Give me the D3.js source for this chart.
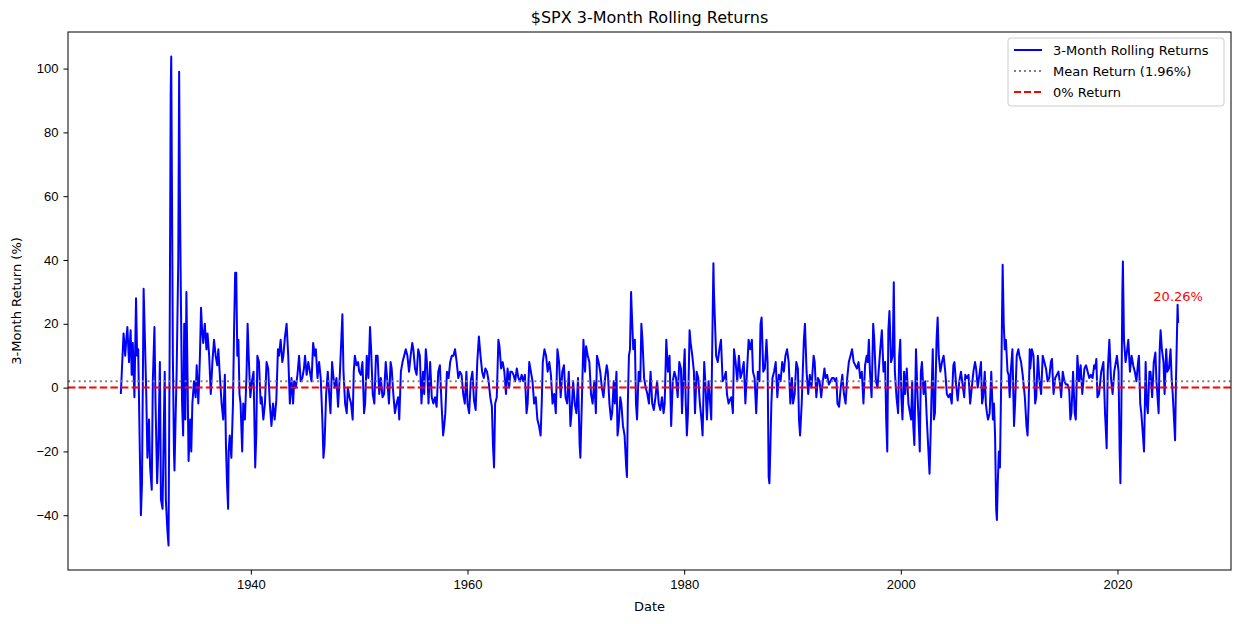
<!DOCTYPE html>
<html><head><meta charset="utf-8">
<script src="https://cdn.jsdelivr.net/npm/d3@7"></script>
<style>body{margin:0;background:#fff}svg{font-family:"DejaVu Sans",sans-serif}</style>
</head><body><svg id="chart" width="1240" height="624"></svg>
<script>
// [year, 3-month return %]
const returns = [
[1928.0,-2],[1928.1,6],[1928.25,17],[1928.4,10],[1928.5,15],[1928.6,19],[1928.75,8],[1928.9,18],
[1929.0,4],[1929.1,14],[1929.25,-3],[1929.4,28],[1929.5,10],[1929.6,12],[1929.75,-20],[1929.85,-40],[1929.95,-30],
[1930.1,31],[1930.2,18],[1930.35,-3],[1930.45,-22],[1930.6,-10],[1930.7,-25],[1930.85,-32],[1930.95,2],
[1931.1,19],[1931.2,-5],[1931.35,-30],[1931.45,-20],[1931.6,8],[1931.7,-35],[1931.85,-38],[1931.95,-15],
[1932.05,5],[1932.15,-35],[1932.3,-45],[1932.4,-49.5],[1932.5,10],[1932.6,92],[1932.65,103.8],[1932.72,60],[1932.8,10],[1932.9,-20],[1932.95,-26],
[1933.05,-10],[1933.15,5],[1933.3,40],[1933.38,99],[1933.45,60],[1933.55,25],[1933.65,-5],[1933.75,-15],[1933.85,20],[1933.95,-10],
[1934.05,30],[1934.15,5],[1934.25,-23],[1934.4,-10],[1934.5,-20],[1934.6,-5],[1934.75,2],[1934.9,-3],
[1935.0,7],[1935.15,-5],[1935.3,10],[1935.4,25],[1935.5,18],[1935.6,14],[1935.75,20],[1935.9,12],
[1936.0,17],[1936.15,10],[1936.3,-2],[1936.45,8],[1936.6,15],[1936.75,10],[1936.9,7],
[1937.0,12],[1937.15,3],[1937.3,-5],[1937.45,-10],[1937.6,4],[1937.7,-18],[1937.8,-30],[1937.9,-38],[1937.95,-20],
[1938.05,-15],[1938.2,-22],[1938.35,-5],[1938.45,18],[1938.55,36],[1938.65,36],[1938.75,10],[1938.85,15],[1938.95,-2],
[1939.05,-5],[1939.2,-20],[1939.3,-5],[1939.45,-10],[1939.6,4],[1939.7,20],[1939.8,10],[1939.95,-3],
[1940.1,2],[1940.25,5],[1940.4,-25],[1940.5,-15],[1940.6,10],[1940.75,8],[1940.9,-5],
[1941.0,-3],[1941.15,-10],[1941.3,-5],[1941.45,8],[1941.6,6],[1941.75,-5],[1941.9,-12],
[1942.05,-5],[1942.2,-10],[1942.35,-4],[1942.5,12],[1942.6,10],[1942.75,15],[1942.9,8],
[1943.0,10],[1943.15,16],[1943.3,20],[1943.45,10],[1943.6,-5],[1943.75,3],[1943.9,-5],
[1944.0,2],[1944.15,0],[1944.3,4],[1944.45,10],[1944.6,2],[1944.75,3],[1944.9,6],
[1945.0,10],[1945.15,4],[1945.3,8],[1945.45,5],[1945.6,2],[1945.75,14],[1945.9,10],
[1946.0,12],[1946.15,3],[1946.3,8],[1946.45,3],[1946.6,-10],[1946.7,-22],[1946.8,-18],[1946.95,-2],
[1947.1,5],[1947.25,-3],[1947.35,-8],[1947.5,8],[1947.6,4],[1947.75,0],[1947.9,3],
[1948.05,-6],[1948.2,3],[1948.35,15],[1948.45,23],[1948.55,5],[1948.7,-5],[1948.85,-8],[1948.95,0],
[1949.1,-3],[1949.25,-5],[1949.4,-10],[1949.5,5],[1949.6,10],[1949.75,7],[1949.9,8],
[1950.0,5],[1950.15,4],[1950.3,8],[1950.45,-8],[1950.55,-5],[1950.7,10],[1950.85,3],
[1951.0,19],[1951.1,12],[1951.25,-2],[1951.4,-5],[1951.55,10],[1951.7,10],[1951.85,-2],
[1952.0,3],[1952.15,-3],[1952.3,-2],[1952.45,8],[1952.6,2],[1952.75,-5],[1952.9,8],
[1953.0,6],[1953.15,-2],[1953.3,-8],[1953.45,-5],[1953.6,-3],[1953.7,-10],[1953.85,5],
[1954.0,8],[1954.15,10],[1954.3,12],[1954.45,10],[1954.6,5],[1954.75,10],[1954.9,14],
[1955.0,12],[1955.15,6],[1955.3,4],[1955.45,12],[1955.6,10],[1955.75,-5],[1955.9,5],
[1956.0,-2],[1956.15,12],[1956.25,8],[1956.4,-5],[1956.55,8],[1956.7,-3],[1956.85,-5],
[1957.0,-3],[1957.15,-6],[1957.3,5],[1957.45,7],[1957.6,-5],[1957.75,-15],[1957.85,-12],[1957.95,-8],
[1958.1,5],[1958.25,3],[1958.4,8],[1958.55,10],[1958.7,10],[1958.85,12],
[1959.0,8],[1959.15,3],[1959.3,5],[1959.45,4],[1959.6,-2],[1959.75,-5],[1959.9,5],
[1960.0,-5],[1960.15,-8],[1960.3,2],[1960.45,5],[1960.6,-4],[1960.75,-7],[1960.9,8],
[1961.05,16],[1961.2,10],[1961.35,5],[1961.5,3],[1961.65,6],[1961.8,5],[1961.95,2],
[1962.1,-3],[1962.25,-6],[1962.35,-18],[1962.45,-25],[1962.55,-5],[1962.7,-3],[1962.85,15],[1962.95,13],
[1963.1,6],[1963.25,8],[1963.4,5],[1963.55,-2],[1963.7,6],[1963.85,0],[1963.95,5],
[1964.1,5],[1964.25,4],[1964.4,2],[1964.55,6],[1964.7,3],[1964.85,2],
[1965.0,4],[1965.15,2],[1965.3,4],[1965.45,-8],[1965.55,-5],[1965.7,8],[1965.85,5],
[1966.0,2],[1966.15,-5],[1966.3,-3],[1966.45,-10],[1966.6,-12],[1966.75,-15],[1966.85,-5],[1966.95,8],
[1967.1,12],[1967.25,10],[1967.4,5],[1967.55,8],[1967.7,4],[1967.85,-5],
[1968.0,-2],[1968.15,-8],[1968.3,12],[1968.45,8],[1968.6,-3],[1968.75,5],[1968.9,7],
[1969.05,-3],[1969.2,-5],[1969.35,5],[1969.5,-12],[1969.6,-8],[1969.75,2],[1969.9,-5],
[1970.05,-8],[1970.2,3],[1970.35,-18],[1970.42,-22],[1970.55,-5],[1970.7,15],[1970.85,5],[1970.95,13],
[1971.1,10],[1971.25,8],[1971.4,-2],[1971.55,-5],[1971.7,2],[1971.85,-8],[1971.95,10],
[1972.1,8],[1972.25,5],[1972.4,0],[1972.55,-3],[1972.7,3],[1972.85,7],[1972.95,5],
[1973.1,-5],[1973.25,-10],[1973.35,-8],[1973.5,2],[1973.6,-5],[1973.75,5],[1973.85,-15],[1973.95,-12],
[1974.1,-3],[1974.2,-5],[1974.35,-12],[1974.5,-15],[1974.65,-25],[1974.72,-28],[1974.8,-5],[1974.9,10],
[1975.0,12],[1975.1,30],[1975.15,25],[1975.3,12],[1975.45,15],[1975.55,-5],[1975.65,-10],[1975.8,5],[1975.95,2],
[1976.05,20],[1976.15,15],[1976.3,3],[1976.45,0],[1976.6,-2],[1976.75,-5],[1976.9,5],
[1977.05,-5],[1977.2,-7],[1977.35,-3],[1977.5,2],[1977.65,-5],[1977.8,-7],[1977.95,-3],
[1978.1,-8],[1978.2,-5],[1978.35,15],[1978.5,5],[1978.65,10],[1978.8,-12],[1978.95,2],
[1979.1,5],[1979.25,3],[1979.4,-3],[1979.55,8],[1979.7,6],[1979.8,-8],[1979.95,5],
[1980.05,12],[1980.15,-5],[1980.25,-15],[1980.35,-8],[1980.5,18],[1980.6,14],[1980.75,10],[1980.9,5],
[1981.0,-8],[1981.15,5],[1981.3,3],[1981.45,-5],[1981.6,-10],[1981.7,-15],[1981.85,8],[1981.95,2],
[1982.1,-10],[1982.25,2],[1982.4,-5],[1982.5,-10],[1982.6,15],[1982.7,39],[1982.75,30],[1982.85,20],[1982.95,10],
[1983.1,8],[1983.25,12],[1983.4,15],[1983.55,2],[1983.7,3],[1983.85,5],[1983.95,-2],
[1984.1,-5],[1984.2,-4],[1984.35,-3],[1984.5,-8],[1984.6,12],[1984.75,8],[1984.9,2],
[1985.05,10],[1985.2,3],[1985.35,5],[1985.5,8],[1985.65,-5],[1985.8,5],[1985.95,15],
[1986.1,12],[1986.25,15],[1986.35,5],[1986.5,3],[1986.65,-8],[1986.8,5],[1986.95,2],
[1987.05,20],[1987.15,22],[1987.3,5],[1987.45,6],[1987.6,15],[1987.7,8],[1987.8,-28],[1987.87,-30],[1987.95,-20],
[1988.05,-5],[1988.15,3],[1988.3,5],[1988.45,8],[1988.6,-3],[1988.75,4],[1988.9,2],
[1989.05,8],[1989.2,5],[1989.35,10],[1989.5,12],[1989.65,8],[1989.8,-5],[1989.95,3],
[1990.05,-5],[1990.2,-2],[1990.35,8],[1990.5,6],[1990.6,-10],[1990.7,-15],[1990.85,-5],[1990.95,5],
[1991.05,15],[1991.15,20],[1991.3,5],[1991.45,-2],[1991.6,4],[1991.75,0],[1991.95,10],
[1992.05,8],[1992.2,-3],[1992.35,3],[1992.5,2],[1992.65,-3],[1992.8,2],[1992.95,6],
[1993.05,3],[1993.2,4],[1993.35,1],[1993.5,2],[1993.65,3],[1993.8,3],[1993.95,2],
[1994.05,3],[1994.15,-5],[1994.3,-6],[1994.45,0],[1994.6,4],[1994.75,-2],[1994.9,-5],
[1995.05,3],[1995.2,8],[1995.35,10],[1995.5,12],[1995.65,8],[1995.8,7],[1995.95,6],
[1996.1,8],[1996.25,3],[1996.4,5],[1996.55,-5],[1996.7,7],[1996.85,10],[1996.95,8],
[1997.05,15],[1997.15,5],[1997.3,-3],[1997.45,20],[1997.55,15],[1997.7,2],[1997.85,0],[1997.95,5],
[1998.1,12],[1998.25,18],[1998.4,5],[1998.55,8],[1998.65,-10],[1998.75,-20],[1998.85,18],[1998.95,24],
[1999.1,8],[1999.25,10],[1999.35,33],[1999.45,5],[1999.6,-3],[1999.75,-8],[1999.85,10],[1999.95,15],
[2000.05,-3],[2000.15,-10],[2000.3,5],[2000.4,-2],[2000.55,6],[2000.7,-5],[2000.85,-8],[2000.95,-10],
[2001.05,2],[2001.15,-12],[2001.25,-18],[2001.4,12],[2001.55,-3],[2001.7,-15],[2001.75,-20],[2001.85,5],[2001.95,8],
[2002.1,-2],[2002.25,2],[2002.4,-10],[2002.55,-20],[2002.65,-27],[2002.75,-15],[2002.85,0],[2002.95,12],
[2003.05,-10],[2003.15,-8],[2003.3,15],[2003.4,22],[2003.5,10],[2003.65,5],[2003.8,8],[2003.95,10],
[2004.1,5],[2004.25,-2],[2004.4,-3],[2004.55,-2],[2004.7,-5],[2004.85,7],[2004.95,8],
[2005.1,1],[2005.25,-4],[2005.4,2],[2005.55,5],[2005.7,1],[2005.85,-3],[2005.95,4],
[2006.1,3],[2006.25,4],[2006.4,-5],[2006.55,0],[2006.7,5],[2006.85,8],[2006.95,6],
[2007.1,0],[2007.25,4],[2007.4,8],[2007.5,-5],[2007.6,-3],[2007.75,5],[2007.85,-5],[2007.95,-8],
[2008.05,-10],[2008.2,-8],[2008.35,5],[2008.5,-10],[2008.6,-5],[2008.7,-15],[2008.8,-38],[2008.87,-41.5],[2008.95,-30],
[2009.05,-20],[2009.15,-25],[2009.3,10],[2009.4,38.5],[2009.5,20],[2009.6,12],[2009.7,15],[2009.85,5],[2009.95,4],
[2010.05,-3],[2010.15,5],[2010.3,12],[2010.45,-12],[2010.55,-5],[2010.7,10],[2010.85,12],[2010.95,10],
[2011.1,8],[2011.25,4],[2011.45,-3],[2011.6,-12],[2011.7,-15],[2011.8,-5],[2011.9,12],[2011.95,6],
[2012.1,12],[2012.25,10],[2012.4,-5],[2012.5,-3],[2012.65,10],[2012.8,2],[2012.95,-2],
[2013.1,10],[2013.25,8],[2013.4,6],[2013.55,2],[2013.7,3],[2013.85,8],[2013.95,9],
[2014.1,-2],[2014.25,3],[2014.4,4],[2014.55,5],[2014.7,1],[2014.8,-3],[2014.95,5],
[2015.1,2],[2015.25,1],[2015.4,1],[2015.55,-1],[2015.65,-10],[2015.75,-8],[2015.9,5],
[2016.05,-8],[2016.15,-10],[2016.3,10],[2016.45,2],[2016.6,7],[2016.75,-2],[2016.95,6],
[2017.1,7],[2017.25,5],[2017.4,3],[2017.55,4],[2017.7,3],[2017.85,7],[2017.95,6],
[2018.05,9],[2018.15,-3],[2018.3,-2],[2018.5,5],[2018.7,8],[2018.85,-8],[2018.95,-15],
[2019.0,-19],[2019.1,5],[2019.25,15],[2019.4,3],[2019.55,-2],[2019.7,5],[2019.85,8],[2019.95,10],
[2020.1,5],[2020.2,-20],[2020.27,-30],[2020.35,-10],[2020.45,30],[2020.5,39.5],[2020.6,15],[2020.75,8],[2020.9,12],
[2021.0,15],[2021.15,5],[2021.3,10],[2021.45,7],[2021.6,5],[2021.75,2],[2021.9,8],[2021.98,10],
[2022.1,-5],[2022.2,-8],[2022.35,-15],[2022.45,-20],[2022.6,8],[2022.7,-5],[2022.8,-8],[2022.95,5],
[2023.05,5],[2023.2,-3],[2023.35,8],[2023.5,11],[2023.6,2],[2023.8,-8],[2023.9,12],[2023.98,18],
[2024.1,12],[2024.25,8],[2024.35,-2],[2024.5,12],[2024.6,5],[2024.75,6],[2024.9,12],
[2025.0,3],[2025.1,-2],[2025.25,-12],[2025.32,-16.5],[2025.4,2],[2025.45,10],[2025.55,26],[2025.6,20.26]
];
const meanReturn = 1.96;
const lastReturn = 20.26;
const yTicks = [-40, -20, 0, 20, 40, 60, 80, 100];
const xTicks = [1940, 1960, 1980, 2000, 2020];
const legendItems = [
  {label: "3-Month Rolling Returns", color: "#0000ff", dash: null},
  {label: "Mean Return (1.96%)", color: "gray", dash: "2,3"},
  {label: "0% Return", color: "red", dash: "7,3"}
];

const svg = d3.select("#chart");
const m = {l: 68, r: 1231, t: 32, b: 570};

const xMin = d3.min(returns, d => d[0]), xMax = d3.max(returns, d => d[0]);
const yMin = d3.min(returns, d => d[1]), yMax = d3.max(returns, d => d[1]);
const xPad = (xMax - xMin) * 0.05, yPad = (yMax - yMin) * 0.05;
const x = d3.scaleLinear().domain([xMin - xPad, xMax + xPad]).range([m.l, m.r]);
const y = d3.scaleLinear().domain([yMin - yPad, yMax + yPad]).range([m.b, m.t]);

svg.append("g").attr("transform", `translate(0,${m.b})`)
  .call(d3.axisBottom(x).tickValues(xTicks).tickFormat(d3.format("d")).tickSize(4.5).tickPadding(5))
  .call(g => g.select(".domain").remove())
  .selectAll("text").attr("font-size", 13).attr("fill", "#000");
svg.append("g").attr("transform", `translate(${m.l},0)`)
  .call(d3.axisLeft(y).tickValues(yTicks).tickFormat(d => d < 0 ? "\u2212" + Math.abs(d) : d).tickSize(4.5).tickPadding(5))
  .call(g => g.select(".domain").remove())
  .selectAll("text").attr("font-size", 13).attr("fill", "#000");

const plot = svg.append("g");
plot.append("path").datum(returns)
  .attr("fill", "none").attr("stroke", "#0000ff").attr("stroke-width", 2)
  .attr("stroke-linejoin", "round")
  .attr("d", d3.line().x(d => x(d[0])).y(d => y(d[1])));
plot.append("line").attr("x1", m.l).attr("x2", m.r).attr("y1", y(meanReturn)).attr("y2", y(meanReturn))
  .attr("stroke", "gray").attr("stroke-width", 2).attr("stroke-dasharray", "2,3.3");
plot.append("line").attr("x1", m.l).attr("x2", m.r).attr("y1", y(0)).attr("y2", y(0))
  .attr("stroke", "red").attr("stroke-width", 2).attr("stroke-dasharray", "7.4,3.2");

const last = returns[returns.length - 1];
svg.append("text").attr("x", x(last[0])).attr("y", y(last[1] + 7)).attr("text-anchor", "middle")
  .attr("font-size", 13).attr("fill", "red").text(lastReturn.toFixed(2) + "%");

svg.append("rect").attr("x", m.l).attr("y", m.t).attr("width", m.r - m.l).attr("height", m.b - m.t)
  .attr("fill", "none").attr("stroke", "#000").attr("stroke-width", 1);

svg.append("text").attr("x", (m.l + m.r) / 2).attr("y", 23).attr("text-anchor", "middle")
  .attr("font-size", 16).text("$SPX 3-Month Rolling Returns");
svg.append("text").attr("x", (m.l + m.r) / 2).attr("y", 611).attr("text-anchor", "middle")
  .attr("font-size", 13).text("Date");
svg.append("text").attr("transform", `translate(21,${(m.t + m.b) / 2}) rotate(-90)`).attr("text-anchor", "middle")
  .attr("font-size", 13).text("3-Month Return (%)");

const lg = svg.append("g").attr("transform", "translate(1008,38)");
lg.append("rect").attr("width", 216).attr("height", 68).attr("rx", 3)
  .attr("fill", "#fff").attr("fill-opacity", 0.8).attr("stroke", "#ccc");
legendItems.forEach((it, i) => {
  const cy = 12 + i * 21;
  lg.append("line").attr("x1", 6).attr("x2", 34).attr("y1", cy).attr("y2", cy)
    .attr("stroke", it.color).attr("stroke-width", 2).attr("stroke-dasharray", it.dash);
  lg.append("text").attr("x", 45).attr("y", cy + 4.5).attr("font-size", 13).text(it.label);
});
</script></body></html>
